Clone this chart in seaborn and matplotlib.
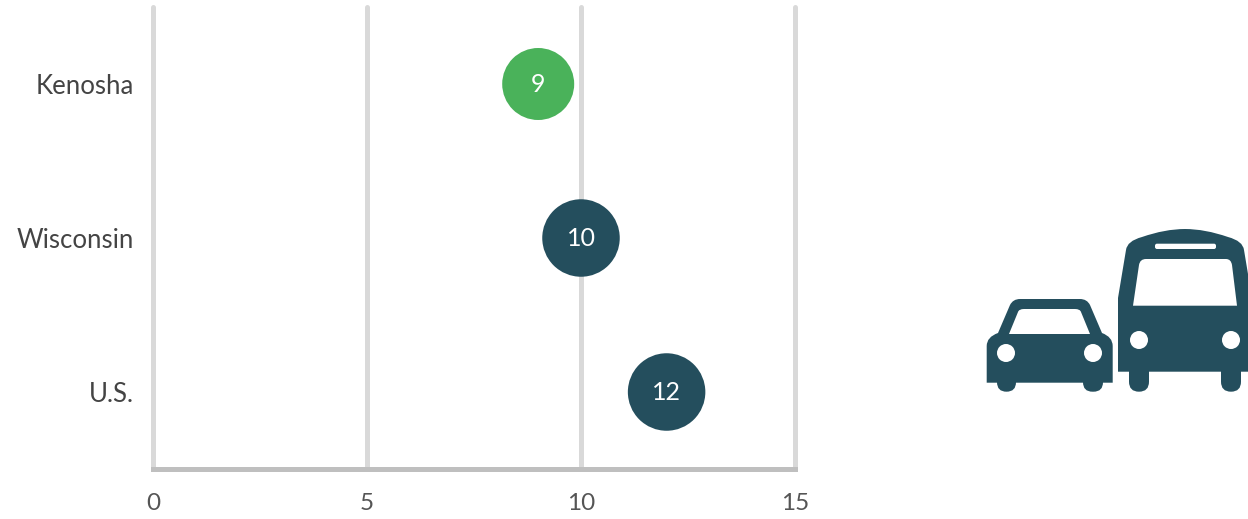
import matplotlib
matplotlib.use('Agg')
import matplotlib.pyplot as plt
from matplotlib.patches import Circle, FancyBboxPatch, PathPatch, Polygon
from matplotlib.path import Path
import pandas as pd
import seaborn as sns

# values
places = ['Kenosha', 'Wisconsin', 'U.S.']
values = [9, 10, 12]
x_ticks = [0, 5, 10, 15]

NAVY = '#244e5d'
GREEN = '#4ab25a'
GRID = '#d9d9d9'
BASE = '#bfbfbf'
W, H = 1248, 519

sns.set_theme(style='white')
plt.rcParams['font.family'] = ['Lato', 'DejaVu Sans']

df = pd.DataFrame({'place': places, 'value': values})

fig = plt.figure(figsize=(W / 100, H / 100), dpi=100)
ax = fig.add_axes([153 / W, 1 - 469 / H, (795 - 153) / W, (469 - 7) / H])

sns.scatterplot(
    data=df, x='value', y='place', hue='place', size='place', ax=ax,
    palette={'Kenosha': GREEN, 'Wisconsin': NAVY, 'U.S.': NAVY},
    sizes={'Kenosha': 2687, 'Wisconsin': 3114, 'U.S.': 3114},
    linewidth=0, legend=False, zorder=3, clip_on=False,
)
ax.set_xlim(0, 15)
ax.set_ylim(2.5, -0.5)
ax.set_xticks(x_ticks)
ax.set_xlabel('')
ax.set_ylabel('')

# heavy vertical gridlines, base line on top of them
ax.set_axisbelow(True)
ax.xaxis.grid(True, color=GRID, lw=3.6, zorder=1)
for ln in ax.get_xgridlines():
    ln.set_clip_on(False)
ax.yaxis.grid(False)
sns.despine(ax=ax, left=True, top=True, right=True, bottom=False)
ax.spines['bottom'].set_color(BASE)
ax.spines['bottom'].set_linewidth(3.6)
ax.spines['bottom'].set_zorder(2)

ax.tick_params(axis='x', length=0, pad=17, labelsize=17.5, labelcolor='#555555')
ax.tick_params(axis='y', length=0, pad=14, labelsize=18.5, labelcolor='#444444')

for i, (place, val) in enumerate(zip(places, values)):
    ax.text(val, i, str(val), color='white', fontsize=18, ha='center', va='center', zorder=4)

# car and bus icon, pixel coordinates of the image
icon = fig.add_axes([0, 0, 1, 1], zorder=5)
icon.set_xlim(0, W)
icon.set_ylim(H, 0)
icon.axis('off')
icon.patch.set_alpha(0)


def rounded(x0, y0, x1, y1, r, color):
    icon.add_patch(FancyBboxPatch((x0 + r, y0 + r), x1 - x0 - 2 * r, y1 - y0 - 2 * r,
                                  boxstyle=f'round,pad={r},rounding_size={r}',
                                  fc=color, ec='none', lw=0))


def curve(verts, color):
    # M, then L for 2-tuples and Q for 4-tuples
    pts, codes = [verts[0]], [Path.MOVETO]
    for v in verts[1:]:
        if len(v) == 2:
            pts.append(v)
            codes.append(Path.LINETO)
        else:
            pts += [(v[0], v[1]), (v[2], v[3])]
            codes += [Path.CURVE3, Path.CURVE3]
    pts.append(verts[0])
    codes.append(Path.CLOSEPOLY)
    icon.add_patch(PathPatch(Path(pts, codes), fc=color, ec='none', lw=0))


# car
rounded(997, 370, 1016, 391.7, 9.5, NAVY)
rounded(1083, 370, 1103, 391.7, 9.5, NAVY)
curve([(986.7, 382.7), (986.7, 346), (986.7, 337, 998, 333), (1010, 305), (1013, 299, 1020, 299),
       (1080, 299), (1087, 299, 1090, 305), (1102, 333), (1112.7, 337, 1112.7, 346),
       (1112.7, 382.7)], NAVY)
curve([(1009, 334), (1018, 312), (1019, 309, 1024, 309), (1075, 309), (1080, 309, 1081, 312),
       (1090, 334)], 'white')
icon.add_patch(Circle((1006, 353), 9, fc='white', ec='none'))
icon.add_patch(Circle((1093, 353), 9, fc='white', ec='none'))

# bus, runs off the right edge like the original
rounded(1129, 360, 1149, 391.7, 10, NAVY)
rounded(1221, 360, 1241, 391.7, 10, NAVY)
curve([(1118, 371.7), (1118, 298), (1126, 250), (1127, 241, 1142, 237), (1165, 229, 1185, 229),
       (1205, 229, 1228, 237), (1243, 241, 1244, 250), (1252, 298), (1252, 371.7)], NAVY)
curve([(1133, 305.7), (1139, 265), (1140, 259, 1146, 259), (1226, 259), (1231, 259, 1232, 265),
       (1237, 305.7)], 'white')
rounded(1155, 243.7, 1216, 249, 2, 'white')
icon.add_patch(Circle((1139, 340), 9, fc='white', ec='none'))
icon.add_patch(Circle((1231, 340), 9, fc='white', ec='none'))

fig.savefig('out.png', dpi=100, facecolor='white')
plt.close(fig)
